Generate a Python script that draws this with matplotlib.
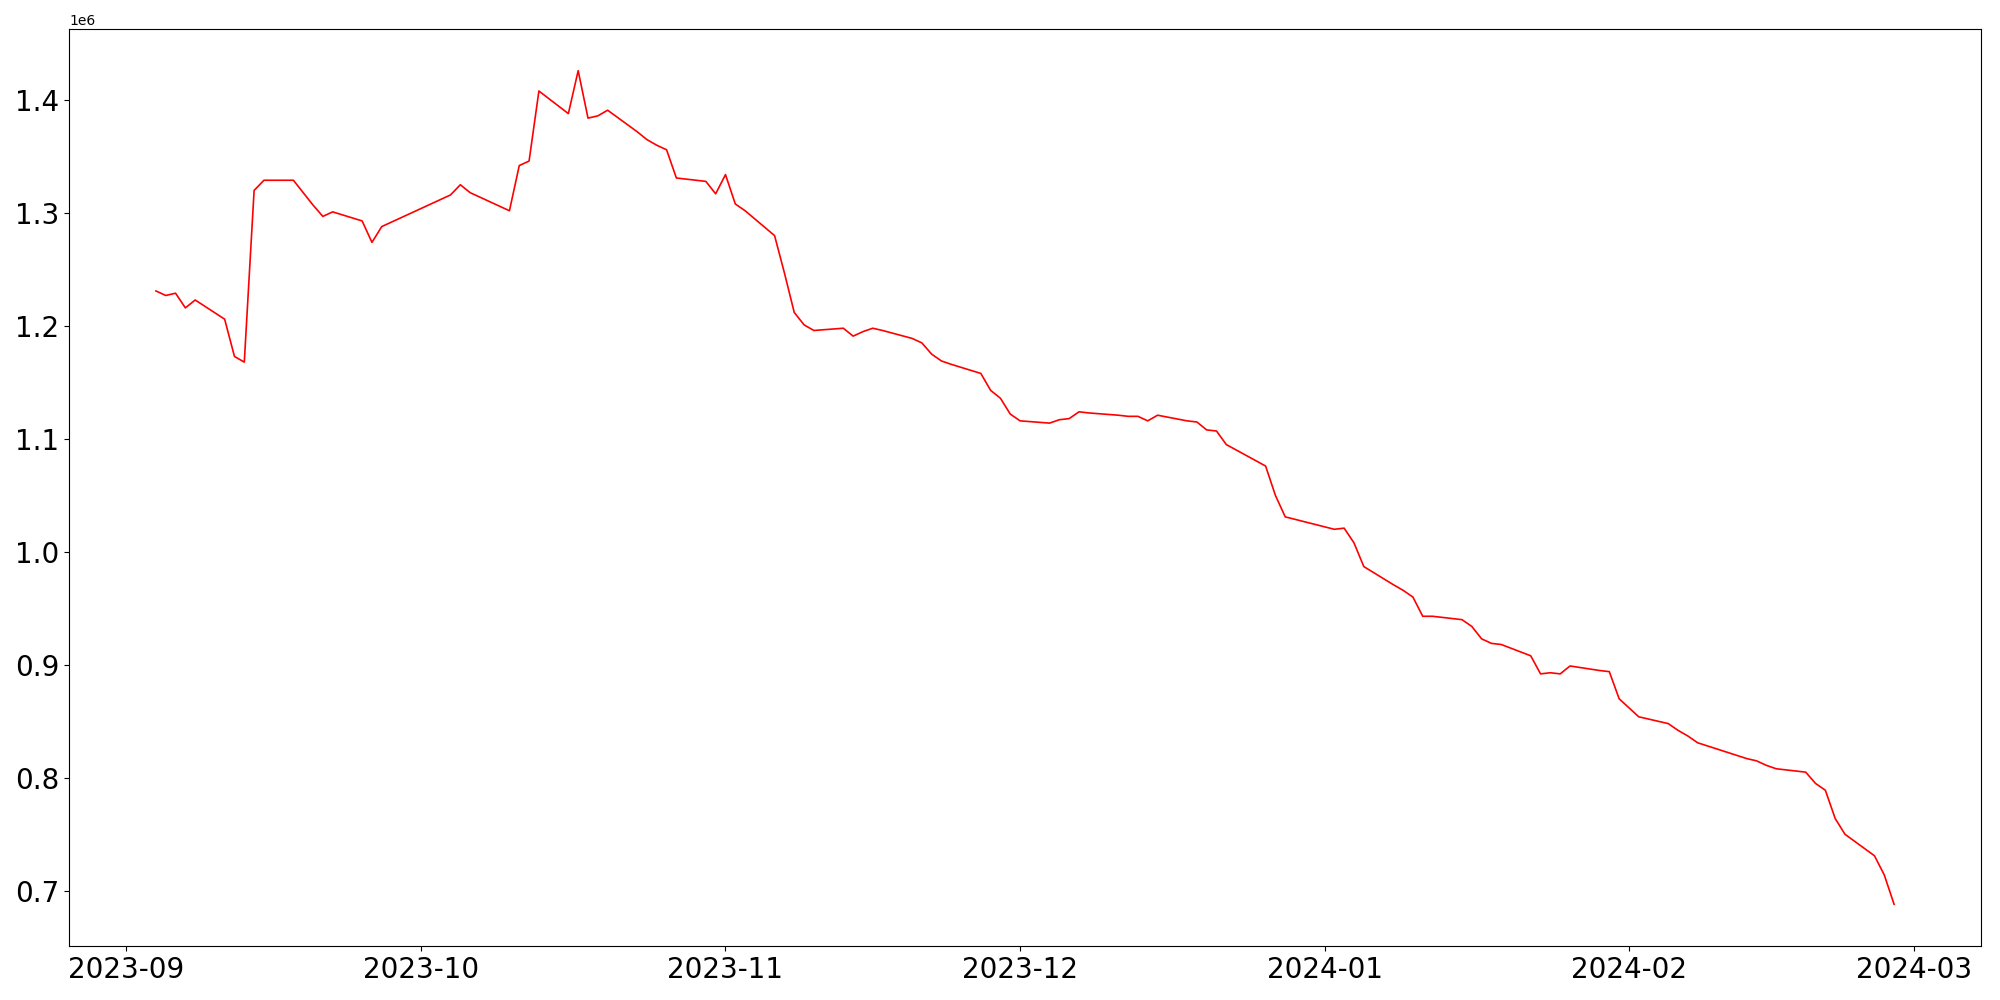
import matplotlib
matplotlib.use('Agg')
import matplotlib.pyplot as plt
import pandas as pd

# trading days (KRX calendar) and closing values
dates = [
    "2023-09-04", "2023-09-05", "2023-09-06", "2023-09-07", "2023-09-08",
    "2023-09-11", "2023-09-12", "2023-09-13", "2023-09-14", "2023-09-15",
    "2023-09-18", "2023-09-19", "2023-09-20", "2023-09-21", "2023-09-22",
    "2023-09-25", "2023-09-26", "2023-09-27",
    "2023-10-04", "2023-10-05", "2023-10-06",
    "2023-10-10", "2023-10-11", "2023-10-12", "2023-10-13",
    "2023-10-16", "2023-10-17", "2023-10-18", "2023-10-19", "2023-10-20",
    "2023-10-23", "2023-10-24", "2023-10-25", "2023-10-26", "2023-10-27",
    "2023-10-30", "2023-10-31", "2023-11-01", "2023-11-02", "2023-11-03",
    "2023-11-06", "2023-11-07", "2023-11-08", "2023-11-09", "2023-11-10",
    "2023-11-13", "2023-11-14", "2023-11-15", "2023-11-16", "2023-11-17",
    "2023-11-20", "2023-11-21", "2023-11-22", "2023-11-23", "2023-11-24",
    "2023-11-27", "2023-11-28", "2023-11-29", "2023-11-30", "2023-12-01",
    "2023-12-04", "2023-12-05", "2023-12-06", "2023-12-07", "2023-12-08",
    "2023-12-11", "2023-12-12", "2023-12-13", "2023-12-14", "2023-12-15",
    "2023-12-18", "2023-12-19", "2023-12-20", "2023-12-21", "2023-12-22",
    "2023-12-26", "2023-12-27", "2023-12-28",
    "2024-01-02", "2024-01-03", "2024-01-04", "2024-01-05",
    "2024-01-08", "2024-01-09", "2024-01-10", "2024-01-11", "2024-01-12",
    "2024-01-15", "2024-01-16", "2024-01-17", "2024-01-18", "2024-01-19",
    "2024-01-22", "2024-01-23", "2024-01-24", "2024-01-25", "2024-01-26",
    "2024-01-29", "2024-01-30", "2024-01-31", "2024-02-01", "2024-02-02",
    "2024-02-05", "2024-02-06", "2024-02-07", "2024-02-08",
    "2024-02-13", "2024-02-14", "2024-02-15", "2024-02-16",
    "2024-02-19", "2024-02-20", "2024-02-21", "2024-02-22", "2024-02-23",
    "2024-02-26", "2024-02-27", "2024-02-28",
]

values = [
    1231000, 1227000, 1229000, 1216000, 1223000,
    1206000, 1173000, 1168000, 1320000, 1329000,
    1329000, 1318000, 1307000, 1297000, 1301000,
    1293000, 1274000, 1288000,
    1316000, 1325000, 1318000,
    1302000, 1342000, 1346000, 1408000,
    1388000, 1426000, 1384000, 1386000, 1391000,
    1372000, 1365000, 1360000, 1356000, 1331000,
    1328000, 1317000, 1334000, 1308000, 1302000,
    1280000, 1247000, 1212000, 1201000, 1196000,
    1198000, 1191000, 1195000, 1198000, 1196000,
    1189000, 1185000, 1175000, 1169000, 1166000,
    1158000, 1143000, 1136000, 1122000, 1116000,
    1114000, 1117000, 1118000, 1124000, 1123000,
    1121000, 1120000, 1120000, 1116000, 1121000,
    1116000, 1115000, 1108000, 1107000, 1095000,
    1076000, 1050000, 1031000,
    1020000, 1021000, 1008000, 987000,
    971000, 966000, 960000, 943000, 943000,
    940000, 934000, 923000, 919000, 918000,
    908000, 892000, 893000, 892000, 899000,
    895000, 894000, 870000, 862000, 854000,
    848000, 842000, 837000, 831000,
    817000, 815000, 811000, 808000,
    805000, 795000, 789000, 764000, 750000,
    731000, 714000, 688000,
]

x = pd.to_datetime(dates)

fig, ax = plt.subplots(figsize=(20, 10), dpi=100)
ax.plot(x, values, color='red', linewidth=1.2)
ax.tick_params(axis='both', labelsize=20)

plt.subplots_adjust(left=0.0345, right=0.9905, top=0.971, bottom=0.054)
plt.savefig('out.png', dpi=100)
plt.close()
